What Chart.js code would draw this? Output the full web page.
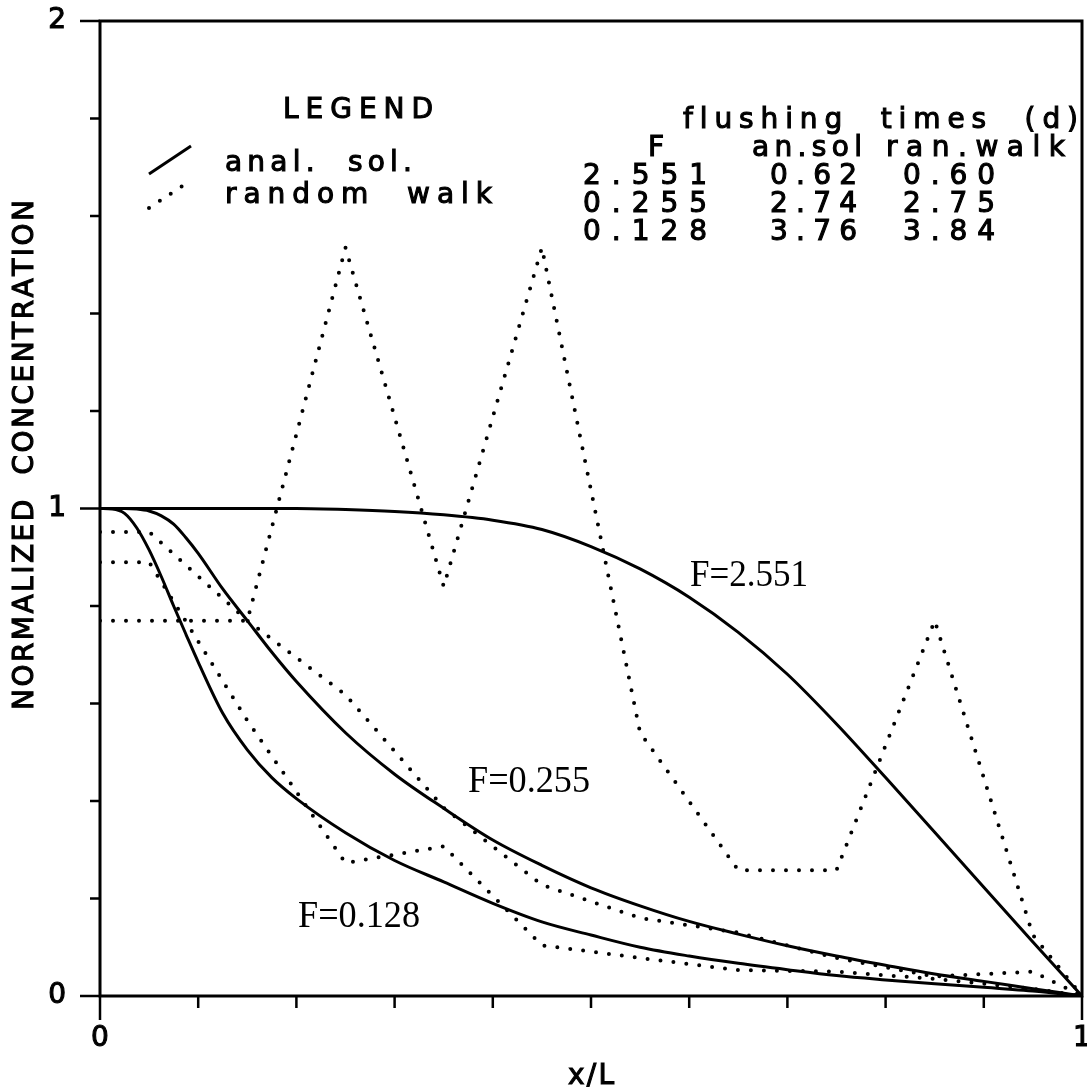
<!DOCTYPE html>
<html lang="en">
<head>
<meta charset="UTF-8">
<title>Normalized concentration</title>
<script src="https://cdn.jsdelivr.net/npm/chart.js"></script>
<style>
    body { margin: 0; background: #fff; }
    #caixa { width: 1087px; height: 1089px; }
</style>
</head>
<body>
<div id="caixa"><canvas id="grafico"></canvas></div>
<script>
    // analytical solutions (solid lines)
    const xAnal = [0, 0.0125, 0.025, 0.0375, 0.05, 0.0625, 0.075, 0.0875, 0.1, 0.125, 0.15, 0.175, 0.2, 0.25, 0.3, 0.35, 0.4, 0.45, 0.5, 0.55, 0.6, 0.65, 0.7, 0.75, 0.8, 0.85, 0.9, 0.95, 1];
    const anal2551 = [1, 1, 1, 1, 1, 1, 1, 1, 1, 1, 1, 1, 1, 0.998, 0.994, 0.987, 0.976, 0.957, 0.922, 0.876, 0.818, 0.746, 0.66, 0.558, 0.448, 0.336, 0.223, 0.111, 0];
    const anal0255 = [1, 1, 1, 0.999, 0.995, 0.985, 0.968, 0.94, 0.908, 0.835, 0.77, 0.705, 0.645, 0.54, 0.455, 0.385, 0.32, 0.268, 0.222, 0.185, 0.153, 0.127, 0.103, 0.082, 0.063, 0.045, 0.03, 0.015, 0];
    const anal0128 = [1, 0.999, 0.99, 0.96, 0.915, 0.86, 0.8, 0.742, 0.685, 0.58, 0.505, 0.448, 0.405, 0.335, 0.278, 0.234, 0.19, 0.152, 0.125, 0.1, 0.082, 0.067, 0.054, 0.042, 0.033, 0.025, 0.018, 0.01, 0];

    // random walk results (dotted lines)
    const xWalk = [0, 0.05, 0.15, 0.25, 0.35, 0.45, 0.55, 0.65, 0.75, 0.85, 0.95, 1];
    const walk2551 = [0.77, 0.77, 0.77, 1.535, 0.84, 1.535, 0.54, 0.258, 0.258, 0.77, 0.125, 0];
    const walk0255 = [0.952, 0.952, 0.77, 0.618, 0.386, 0.228, 0.16, 0.13, 0.078, 0.04, 0.05, 0];
    const walk0128 = [0.89, 0.89, 0.565, 0.273, 0.307, 0.104, 0.078, 0.053, 0.05, 0.035, 0.015, 0];

    // axis labels
    const xTickLabels = [0, 1];
    const yTickLabels = [0, 1, 2];

    // flushing times table
    const flushF = ['2.551', '0.255', '0.128'];
    const flushAnSol = ['0.62', '2.74', '3.76'];
    const flushRanWalk = ['0.60', '2.75', '3.84'];

    const fonteSans = '28px "DejaVu Sans"';
    const fonteSerif = '38px "Liberation Serif"';

    function pontos(xs, ys) {
        return xs.map((x, i) => ({ x: x, y: ys[i] }));
    }

    function ehRotulo(v, lista) {
        return lista.some(l => Math.abs(l - v) < 1e-6);
    }

    // spreads the characters between x0 and x1 (plotter lettering is wide)
    function textoEspacado(ctx, s, x0, x1, y) {
        const chars = s.split('');
        const w = chars.map(c => ctx.measureText(c).width);
        const total = w.reduce((p, q) => p + q, 0);
        const gap = (x1 !== undefined && chars.length > 1) ? (x1 - x0 - total) / (chars.length - 1) : 0;
        let x = x0;
        chars.forEach((c, i) => {
            ctx.fillText(c, x, y);
            ctx.strokeText(c, x, y);
            x += w[i] + gap;
        });
    }

    // squeezes a string to the width x0..x1
    function textoAjustado(ctx, s, x0, x1, y) {
        const w = ctx.measureText(s).width;
        ctx.save();
        ctx.translate(x0, y);
        ctx.scale((x1 - x0) / w, 1);
        ctx.fillText(s, 0, 0);
        ctx.restore();
    }

    const solida = { borderColor: '#000', borderWidth: 3, pointRadius: 0, fill: false, cubicInterpolationMode: 'monotone' };
    const pontilhada = { borderColor: '#000', borderWidth: 4, pointRadius: 0, fill: false, tension: 0, borderDash: [0, 13], borderCapStyle: 'round' };

    const moldura = {
        id: 'moldura',
        afterDraw(chart) {
            const ctx = chart.ctx;
            const a = chart.chartArea;
            const xs = chart.scales.x;
            const ys = chart.scales.y;
            ctx.save();
            ctx.strokeStyle = '#000';
            ctx.fillStyle = '#000';

            // frame
            ctx.lineWidth = 3;
            ctx.strokeRect(a.left, a.top, a.right - a.left, a.bottom - a.top);

            // tick marks (outside)
            ctx.lineWidth = 2.5;
            ctx.beginPath();
            xs.ticks.forEach(t => {
                const px = xs.getPixelForValue(t.value);
                const len = ehRotulo(t.value, xTickLabels) ? 24 : 12;
                ctx.moveTo(px, a.bottom);
                ctx.lineTo(px, a.bottom + len);
            });
            ys.ticks.forEach(t => {
                const py = ys.getPixelForValue(t.value);
                const len = ehRotulo(t.value, yTickLabels) ? 20 : 10;
                ctx.moveTo(a.left, py);
                ctx.lineTo(a.left - len, py);
            });
            ctx.stroke();

            // legend symbols
            ctx.lineWidth = 3;
            ctx.beginPath();
            ctx.moveTo(149, 174);
            ctx.lineTo(191, 146);
            ctx.stroke();
            ctx.save();
            ctx.lineWidth = 4;
            ctx.lineCap = 'round';
            ctx.setLineDash([0, 13]);
            ctx.beginPath();
            ctx.moveTo(149, 208);
            ctx.lineTo(184, 185);
            ctx.stroke();
            ctx.restore();

            // texts
            ctx.font = fonteSans;
            ctx.lineWidth = 1.1;
            ctx.textBaseline = 'alphabetic';
            ctx.textAlign = 'left';
            textoEspacado(ctx, 'LEGEND', 283, 433, 118);
            textoEspacado(ctx, 'anal.  sol.', 225, 412, 171);
            textoEspacado(ctx, 'random  walk', 225, 492, 203);

            textoEspacado(ctx, 'flushing  times  (d)', 683, 1078, 128);
            textoEspacado(ctx, 'F', 648, undefined, 156);
            textoEspacado(ctx, 'an.sol', 752, 862, 156);
            textoEspacado(ctx, 'ran.walk', 886, 1065, 156);
            flushF.forEach((f, i) => {
                const y = 184 + i * 28;
                textoEspacado(ctx, f, 583, 707, y);
                textoEspacado(ctx, flushAnSol[i], 770, 857, y);
                textoEspacado(ctx, flushRanWalk[i], 903, 995, y);
            });

            // axis titles
            ctx.save();
            ctx.translate(33, 710);
            ctx.rotate(-Math.PI / 2);
            textoEspacado(ctx, 'NORMALIZED  CONCENTRATION', 0, 510, 0);
            ctx.restore();
            textoEspacado(ctx, 'x/L', 568, 614, 1084);

            // curve labels
            ctx.font = fonteSerif;
            textoAjustado(ctx, 'F=2.551', 690, 808, 586);
            textoAjustado(ctx, 'F=0.255', 468, 590, 792);
            textoAjustado(ctx, 'F=0.128', 298, 420, 927);
            ctx.restore();
        }
    };

    const dados = {
        datasets: [
            Object.assign({ label: 'anal. sol. F=2.551', data: pontos(xAnal, anal2551) }, solida),
            Object.assign({ label: 'anal. sol. F=0.255', data: pontos(xAnal, anal0255) }, solida),
            Object.assign({ label: 'anal. sol. F=0.128', data: pontos(xAnal, anal0128) }, solida),
            Object.assign({ label: 'random walk F=2.551', data: pontos(xWalk, walk2551) }, pontilhada),
            Object.assign({ label: 'random walk F=0.255', data: pontos(xWalk, walk0255) }, pontilhada),
            Object.assign({ label: 'random walk F=0.128', data: pontos(xWalk, walk0128) }, pontilhada)
        ]
    };

    const fonteTicks = { family: 'DejaVu Sans', size: 28 };

    const config = {
        type: 'line',
        data: dados,
        options: {
            responsive: true,
            maintainAspectRatio: false,
            animation: false,
            layout: { padding: { left: 0, top: 21, right: 5, bottom: 0 } },
            plugins: { legend: { display: false }, tooltip: { enabled: false } },
            scales: {
                x: {
                    type: 'linear', min: 0, max: 1,
                    grid: { display: false, drawTicks: false },
                    border: { display: false },
                    ticks: {
                        stepSize: 0.1, autoSkip: false, maxRotation: 0, padding: 26, color: '#000',
                        textStrokeColor: '#000', textStrokeWidth: 1.1,
                        font: fonteTicks,
                        callback: v => ehRotulo(v, xTickLabels) ? String(Math.round(v)) : ''
                    },
                    afterFit: s => { s.height = 93; s.paddingLeft = 0; s.paddingRight = 0; }
                },
                y: {
                    type: 'linear', min: 0, max: 2,
                    grid: { display: false, drawTicks: false },
                    border: { display: false },
                    ticks: {
                        stepSize: 0.2, autoSkip: false, padding: 34, color: '#000',
                        textStrokeColor: '#000', textStrokeWidth: 1.1,
                        font: fonteTicks,
                        callback: v => ehRotulo(v, yTickLabels) ? String(Math.round(v)) : ''
                    },
                    afterFit: s => { s.width = 100; s.paddingTop = 0; s.paddingBottom = 0; }
                }
            }
        },
        plugins: [moldura]
    };

    new Chart(document.getElementById('grafico'), config);
</script>
</body>
</html>
